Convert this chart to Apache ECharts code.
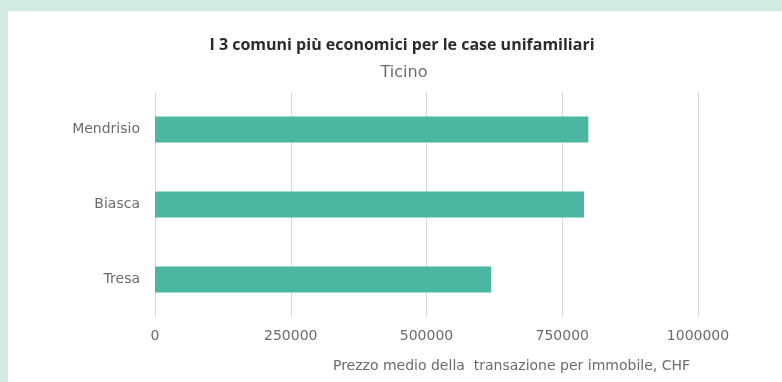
<!DOCTYPE html>
<html>
<head>
<meta charset="utf-8">
<script src="https://cdn.jsdelivr.net/npm/echarts@6/dist/echarts.min.js"></script>
<style>
  html, body { margin: 0; padding: 0; }
  body { width: 782px; height: 382px; background: #d3e9e3; position: relative; overflow: hidden; }
  #panel { position: absolute; left: 8px; top: 11px; right: 0; bottom: 0; background: #ffffff; }
  #chart { position: absolute; left: 0; top: 0; width: 782px; height: 382px; }
</style>
</head>
<body>
<div id="panel"></div>
<div id="chart"></div>
<script>
// Average transaction price of single-family houses, cheapest municipalities in Ticino
const comuni = ['Mendrisio', 'Biasca', 'Tresa'];
const prezzi = [798000, 790000, 619000];
const xTicks = [0, 250000, 500000, 750000, 1000000];

const chart = echarts.init(document.getElementById('chart'), null, { renderer: 'canvas' });

chart.setOption({
  backgroundColor: 'transparent',
  animation: false,
  title: [
    {
      text: 'I 3 comuni più economici per le case unifamiliari',
      left: 397, top: 32, textAlign: 'center',
      textStyle: { fontFamily: 'Open Sans', fontWeight: 'bold', fontSize: 16, color: '#2b2b2b' }
    },
    {
      text: 'Ticino',
      left: 399, top: 60, textAlign: 'center',
      textStyle: { fontFamily: 'DejaVu Sans', fontWeight: 'normal', fontSize: 16, color: '#6b6b6b' }
    }
  ],
  grid: { left: 155, right: 84, top: 92, bottom: 65, containLabel: false },
  xAxis: {
    type: 'value',
    min: xTicks[0],
    max: xTicks[xTicks.length - 1],
    interval: xTicks[1] - xTicks[0],
    axisLine: { show: false },
    axisTick: { show: false },
    splitLine: { show: true, lineStyle: { color: '#d9d9d9', width: 1 } },
    axisLabel: {
      margin: 12,
      fontFamily: 'DejaVu Sans', fontSize: 14, color: '#6b6b6b',
      formatter: v => String(v)
    },
    name: 'Prezzo medio della  transazione per immobile, CHF',
    nameLocation: 'middle',
    nameGap: 42,
    nameTextStyle: {
      fontFamily: 'DejaVu Sans', fontSize: 14, color: '#6b6b6b',
      padding: [0, 0, 0, 170]
    }
  },
  yAxis: {
    type: 'category',
    data: comuni,
    inverse: true,
    axisLine: { show: false },
    axisTick: { show: false },
    splitLine: { show: false },
    axisLabel: { margin: 15, fontFamily: 'DejaVu Sans', fontSize: 14, color: '#6b6b6b' }
  },
  series: [{
    type: 'bar',
    data: prezzi,
    barWidth: 26,
    itemStyle: { color: '#4bb7a2' }
  }]
});
</script>
</body>
</html>
